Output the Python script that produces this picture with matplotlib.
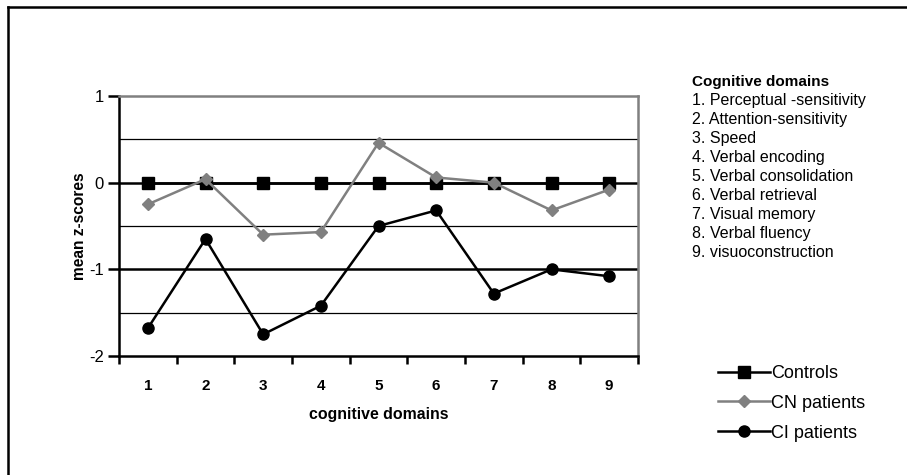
import matplotlib
matplotlib.use('Agg')
import matplotlib.pyplot as plt
from matplotlib.lines import Line2D

plt.rcParams['font.family'] = ['Liberation Sans', 'DejaVu Sans']

# dati
domini = [1, 2, 3, 4, 5, 6, 7, 8, 9]
controls = [0, 0, 0, 0, 0, 0, 0, 0, 0]
cn_patients = [-0.25, 0.04, -0.60, -0.57, 0.46, 0.06, 0.0, -0.32, -0.08]
ci_patients = [-1.68, -0.65, -1.75, -1.42, -0.50, -0.32, -1.28, -1.00, -1.08]

nomi_domini = ['1. Perceptual -sensitivity', '2. Attention-sensitivity', '3. Speed',
               '4. Verbal encoding', '5. Verbal consolidation', '6. Verbal retrieval',
               '7. Visual memory', '8. Verbal fluency', '9. visuoconstruction']

W, H = 907, 475
fig = plt.figure(figsize=(W / 100, H / 100), dpi=100)
ax = fig.add_axes([119 / W, 1 - 356 / H, 519 / W, 260 / H])

# griglia orizzontale
for yv in [0.5, -0.5, -1.5]:
    ax.axhline(yv, color='black', lw=0.9, zorder=1)
for yv in [0, -1]:
    ax.axhline(yv, color='black', lw=1.8, zorder=1)

ax.plot(domini, controls, color='black', lw=1.8, marker='s', ms=8, zorder=3, label='Controls')
ax.plot(domini, cn_patients, color='#808080', lw=1.8, marker='D', ms=6, zorder=4, label='CN patients')
ax.plot(domini, ci_patients, color='black', lw=1.8, marker='o', ms=8, zorder=3, label='CI patients')

ax.set_xlim(0.5, 9.5)
ax.set_ylim(-2, 1)
ax.set_yticks([1, 0, -1, -2])
ax.set_yticklabels(['1', '0', '-1', '-2'], fontsize=12)
ax.set_xticks(domini)
ax.set_xticklabels([str(d) for d in domini], fontsize=11, fontweight='bold')
ax.tick_params(axis='x', length=0, pad=16.5)
ax.set_xticks([d + 0.5 for d in [0] + domini], minor=True)
ax.tick_params(axis='x', which='minor', length=6, width=1.8, direction='out')
ax.tick_params(axis='y', length=8, width=1.8, direction='out', pad=3)

for s in ['left', 'bottom']:
    ax.spines[s].set_linewidth(1.8)
    ax.spines[s].set_color('black')
for s in ['top', 'right']:
    ax.spines[s].set_linewidth(1.8)
    ax.spines[s].set_color('#808080')

ax.set_xlabel('cognitive domains', fontsize=11.4, fontweight='bold', labelpad=10.5)
ax.set_ylabel('mean z-scores', fontsize=11.2, fontweight='bold', labelpad=1.5)

# legenda dei domini
fig.text(692 / W, 1 - 82 / H, 'Cognitive domains', fontsize=11, fontweight='bold', va='center')
for i, nome in enumerate(nomi_domini):
    fig.text(692 / W, 1 - (101 + i * 18.9) / H, nome, fontsize=11.5, va='center')

# legenda serie
leg = ax.legend(loc='upper left', bbox_to_anchor=(718 / W, 1 - 365 / H), bbox_transform=fig.transFigure,
                frameon=False, fontsize=13, handlelength=2.9, handletextpad=0.05, labelspacing=0.71,
                borderpad=0, borderaxespad=0)

# cornice esterna (solo lati visibili)
fig.add_artist(Line2D([7.5 / W, 7.5 / W], [0, 1 - 6.5 / H], transform=fig.transFigure, color='black', lw=1.8))
fig.add_artist(Line2D([7.5 / W, 1], [1 - 6.5 / H, 1 - 6.5 / H], transform=fig.transFigure, color='black', lw=1.8))

plt.savefig('out.png', dpi=100)
